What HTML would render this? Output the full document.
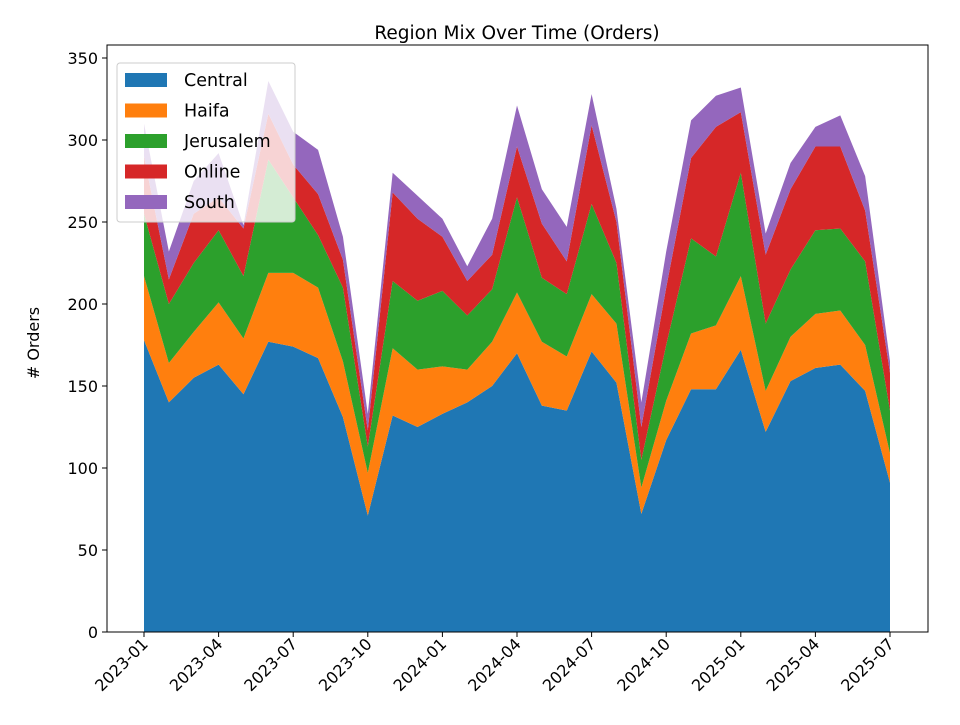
<!DOCTYPE html>
<html><head><meta charset="utf-8"><style>
body{margin:0;background:#fff;}
svg text{font-family:"DejaVu Sans","Liberation Sans",sans-serif;fill:#000;}
</style></head><body>
<svg id="chart" width="960" height="720" xmlns="http://www.w3.org/2000/svg"></svg>
<script>
const months = ["2023-01","2023-02","2023-03","2023-04","2023-05","2023-06","2023-07","2023-08","2023-09","2023-10","2023-11","2023-12","2024-01","2024-02","2024-03","2024-04","2024-05","2024-06","2024-07","2024-08","2024-09","2024-10","2024-11","2024-12","2025-01","2025-02","2025-03","2025-04","2025-05","2025-06","2025-07"];
const seriesNames = ["Central","Haifa","Jerusalem","Online","South"];
const central = [178,140,155,163,145,177,174,167,131,71,132,125,133,140,150,170,138,135,171,152,72,117,148,148,172,122,153,161,163,147,91];
const haifa = [39,24,28,38,34,42,45,43,34,26,41,35,29,20,27,37,39,33,35,36,16,24,34,39,45,25,27,33,33,28,18];
const jerusalem = [38,36,42,44,38,69,46,32,45,16,41,42,46,33,32,58,39,38,55,37,17,34,58,42,63,41,41,51,50,51,26];
const online = [35,15,30,20,29,28,20,25,17,10,54,50,33,21,21,31,33,20,48,25,20,35,49,79,37,42,49,51,50,31,23];
const south = [20,17,20,27,2,20,20,27,14,10,12,14,11,9,22,25,21,21,19,8,15,22,23,19,15,13,16,12,19,21,7];
const yTicks = [0,50,100,150,200,250,300,350];
const xTickIdx = [0,3,6,9,12,15,18,21,24,27,30];

const colors = ["#1f77b4","#ff7f0e","#2ca02c","#d62728","#9467bd"];
const L=107,R=928,T=45,B=632;
const x0=144,x1=890;
const xs = i => x0 + (x1-x0)*i/(months.length-1);
const ys = v => B - (B-58)*v/350;
const NS="http://www.w3.org/2000/svg";
const svg=document.getElementById('chart');
function mk(tag,attrs,parent){const e=document.createElementNS(NS,tag);for(const k in attrs)e.setAttribute(k,attrs[k]);(parent||svg).appendChild(e);return e;}

const data=[central,haifa,jerusalem,online,south];
let base=months.map(()=>0);
const areaG=mk('g',{});


data.forEach((s,k)=>{
  const top=base.map((b,i)=>b+s[i]);
  let d="M"+months.map((_,i)=>xs(i)+","+ys(top[i])).join(" L");
  for(let i=months.length-1;i>=0;i--) d+=" L"+xs(i)+","+ys(base[i]);
  d+=" Z";
  const p=mk('path',{d:d,fill:colors[k]},areaG);
  
  
  base=top;
});

const fr=mk('rect',{x:L,y:T,width:R-L,height:B-T,fill:'none',stroke:'#000','stroke-width':1});



yTicks.forEach(v=>{
  const y=ys(v);
  mk('line',{x1:L-5,x2:L,y1:y,y2:y,stroke:'#000'});
  const t=mk('text',{x:L-9,y:y+6,'text-anchor':'end','font-size':16});
  t.textContent=v;
  
  
});
xTickIdx.forEach(i=>{
  const x=xs(i);
  mk('line',{x1:x,x2:x,y1:B,y2:B+5,stroke:'#000'});
  const t=mk('text',{x:x+5,y:B+13,'text-anchor':'end','font-size':16,transform:`rotate(-45 ${x+5} ${B+13})`});
  t.textContent=months[i];
  
  
});
const title=mk('text',{x:517,y:39,'text-anchor':'middle','font-size':18.5});
title.textContent="Region Mix Over Time (Orders)";


const yl=mk('text',{x:39,y:343,'text-anchor':'middle','font-size':16,transform:'rotate(-90 39 343)'});
yl.textContent="# Orders";



const lg=mk('g',{});


mk('rect',{x:117,y:63,width:178,height:159,rx:3,fill:'#fff','fill-opacity':0.8,stroke:'#ccc'},lg);
seriesNames.forEach((n,k)=>{
  const y=73+k*30.5;
  const sw=mk('rect',{x:125,y:y,width:42,height:14,fill:colors[k]},lg);
  
  
  const t=mk('text',{x:184,y:y+13,'font-size':17.5},lg);
  t.textContent=n;
  
  
});
</script>
</body></html>
